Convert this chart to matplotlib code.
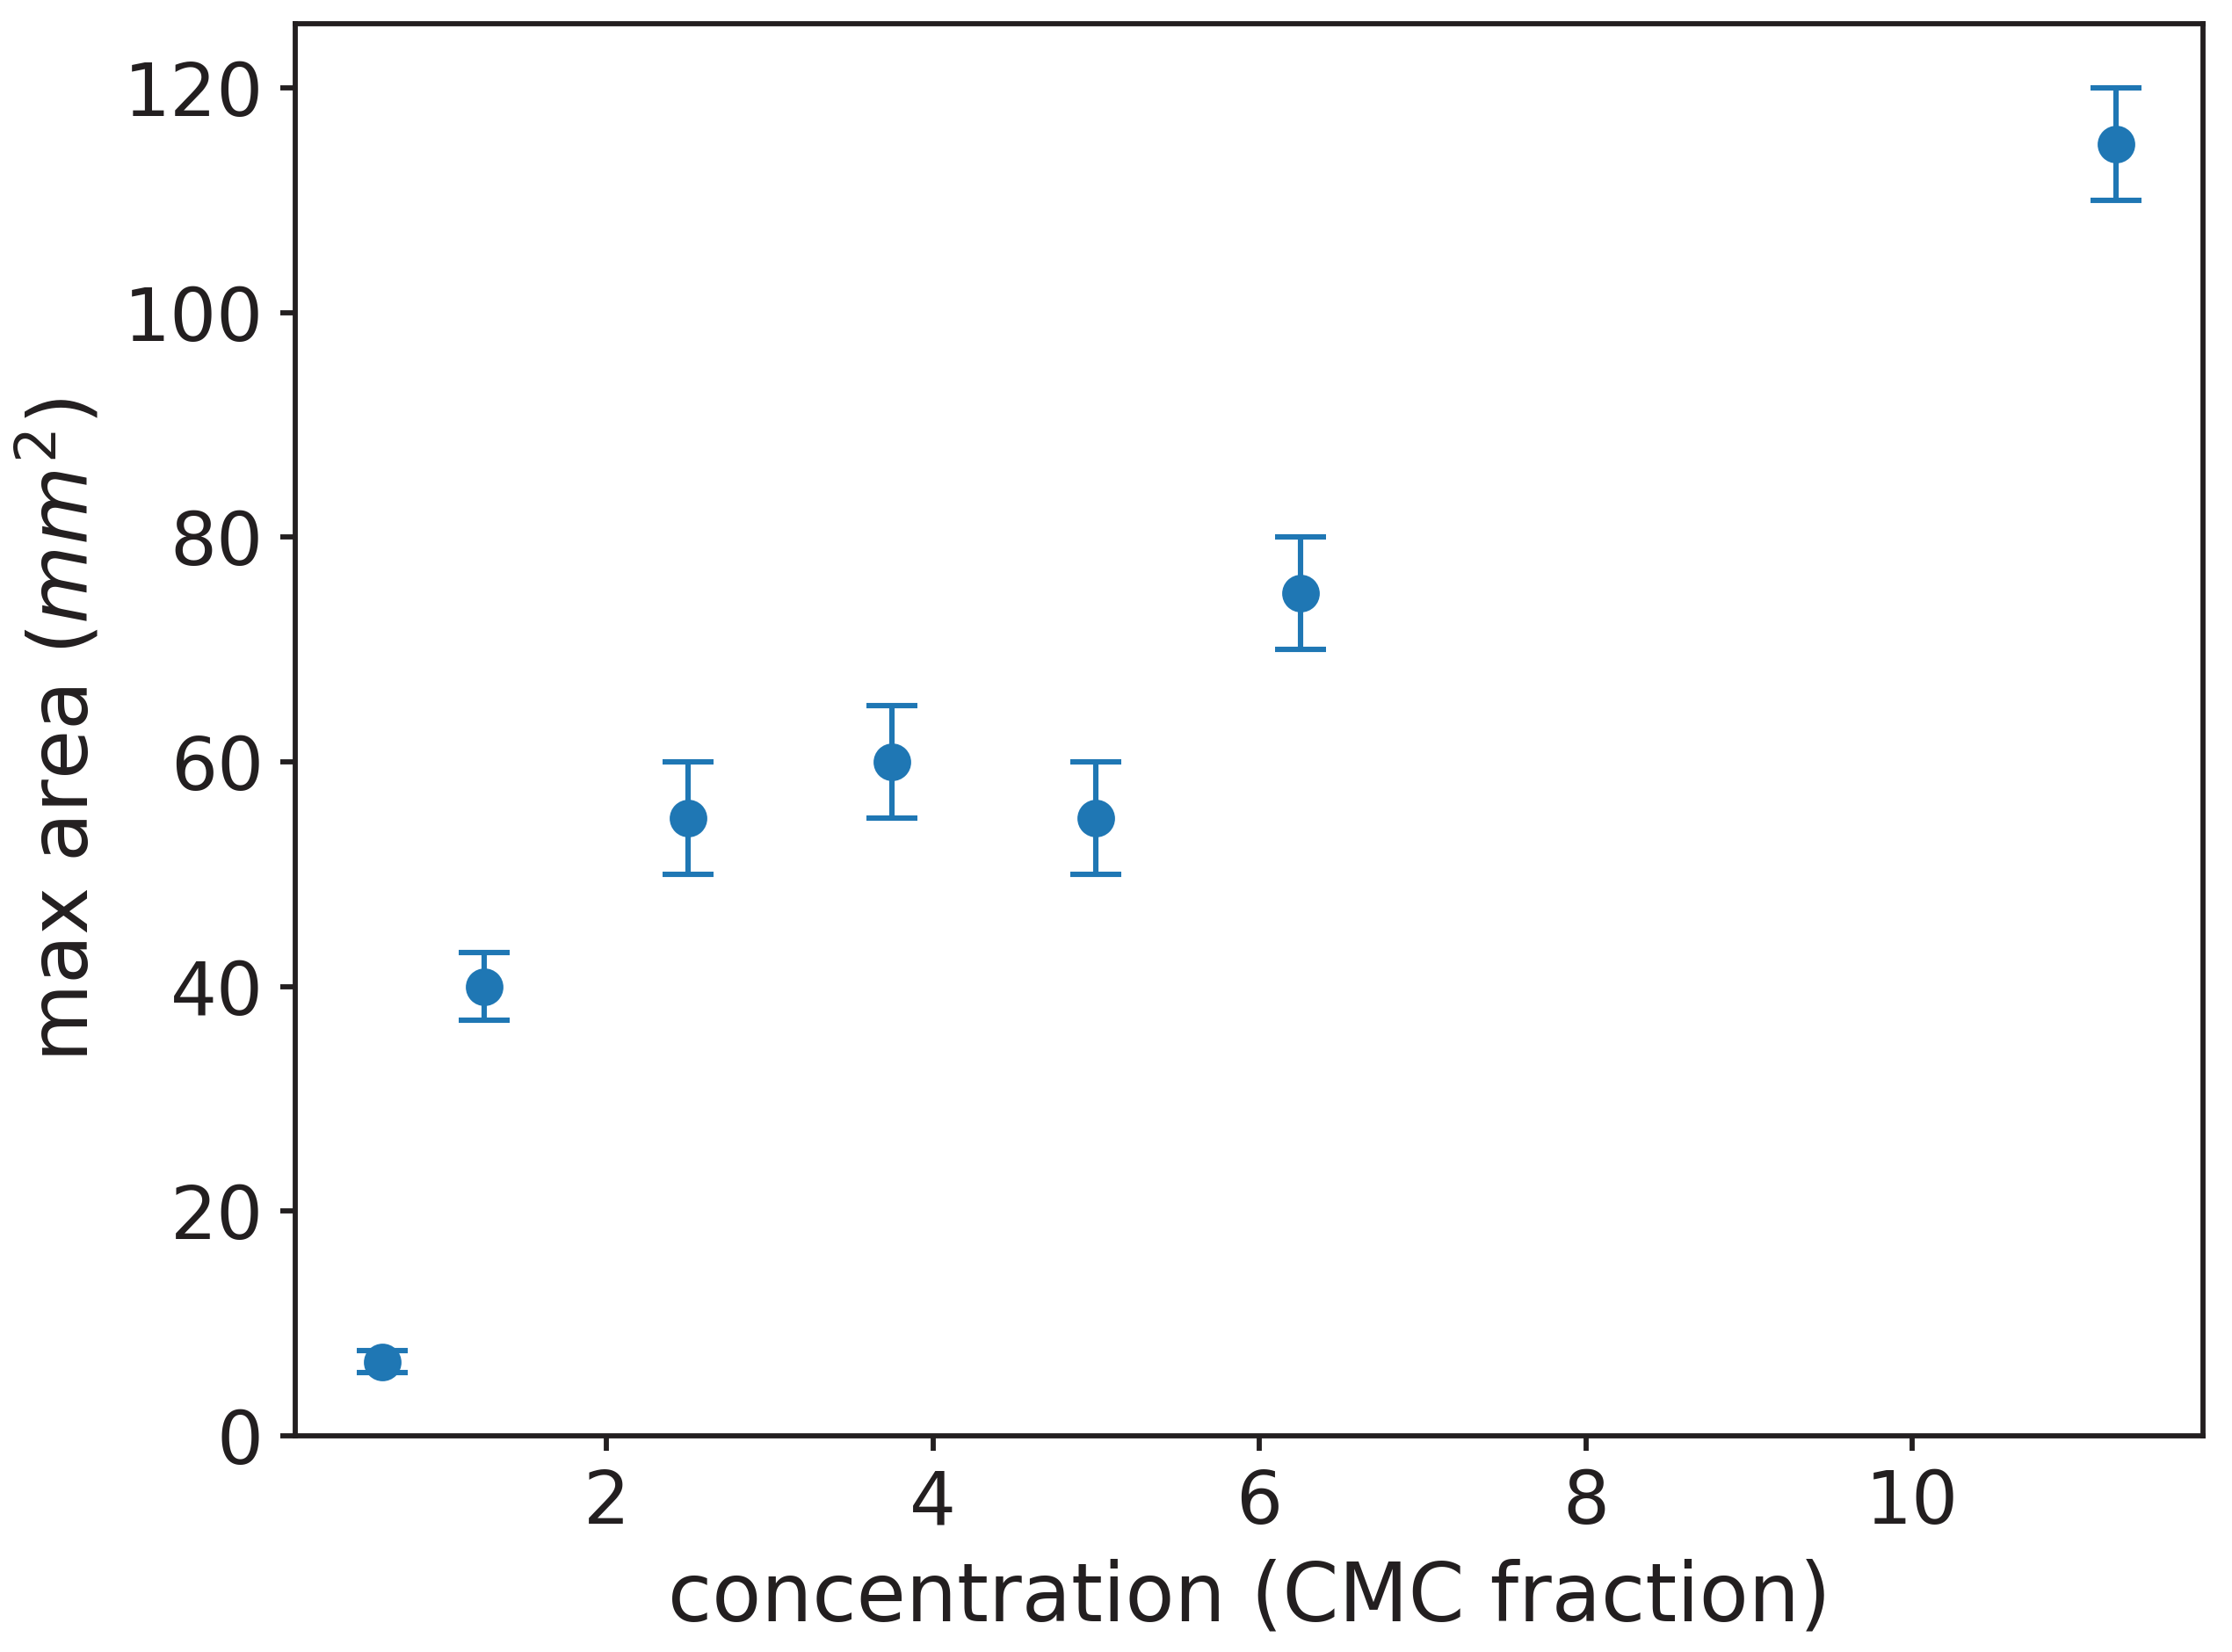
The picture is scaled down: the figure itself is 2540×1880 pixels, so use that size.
import matplotlib
matplotlib.use("Agg")
import matplotlib.pyplot as plt

# data
concentration = [0.625, 1.25, 2.5, 3.75, 5.0, 6.25, 11.25]
max_area = [6.6, 40, 55, 60, 55, 75, 115]
area_err = [1.0, 3, 5, 5, 5, 5, 5]

DARK = '#231f20'
BLUE = '#1f77b4'
DPI = 200

plt.rcParams['font.family'] = ['DejaVu Sans']
plt.rcParams['text.color'] = DARK
plt.rcParams['axes.labelcolor'] = DARK
plt.rcParams['xtick.color'] = DARK
plt.rcParams['ytick.color'] = DARK

fig = plt.figure(figsize=(2540 / DPI, 1880 / DPI), dpi=DPI)
ax = fig.add_axes([0.1323, 0.1309, 0.9870 - 0.1323, 0.9856 - 0.1309])

ax.errorbar(concentration, max_area, yerr=area_err, fmt='o', color=BLUE,
            markersize=14.4, elinewidth=2.2, capsize=10.4, capthick=2.2)

ax.set_ylim(bottom=0)
ax.set_xticks([2, 4, 6, 8, 10])
ax.set_yticks([0, 20, 40, 60, 80, 100, 120])

for s in ax.spines.values():
    s.set_linewidth(2.1)
    s.set_color(DARK)
ax.tick_params(axis='both', which='major', labelsize=30, width=2.1, length=6,
               pad=7, color=DARK, labelcolor=DARK)

ax.set_xlabel('concentration (CMC fraction)', fontsize=33, labelpad=8)
ax.set_ylabel('max area ($mm^2$)', fontsize=33, labelpad=8)

fig.savefig('out.png', dpi=DPI)
